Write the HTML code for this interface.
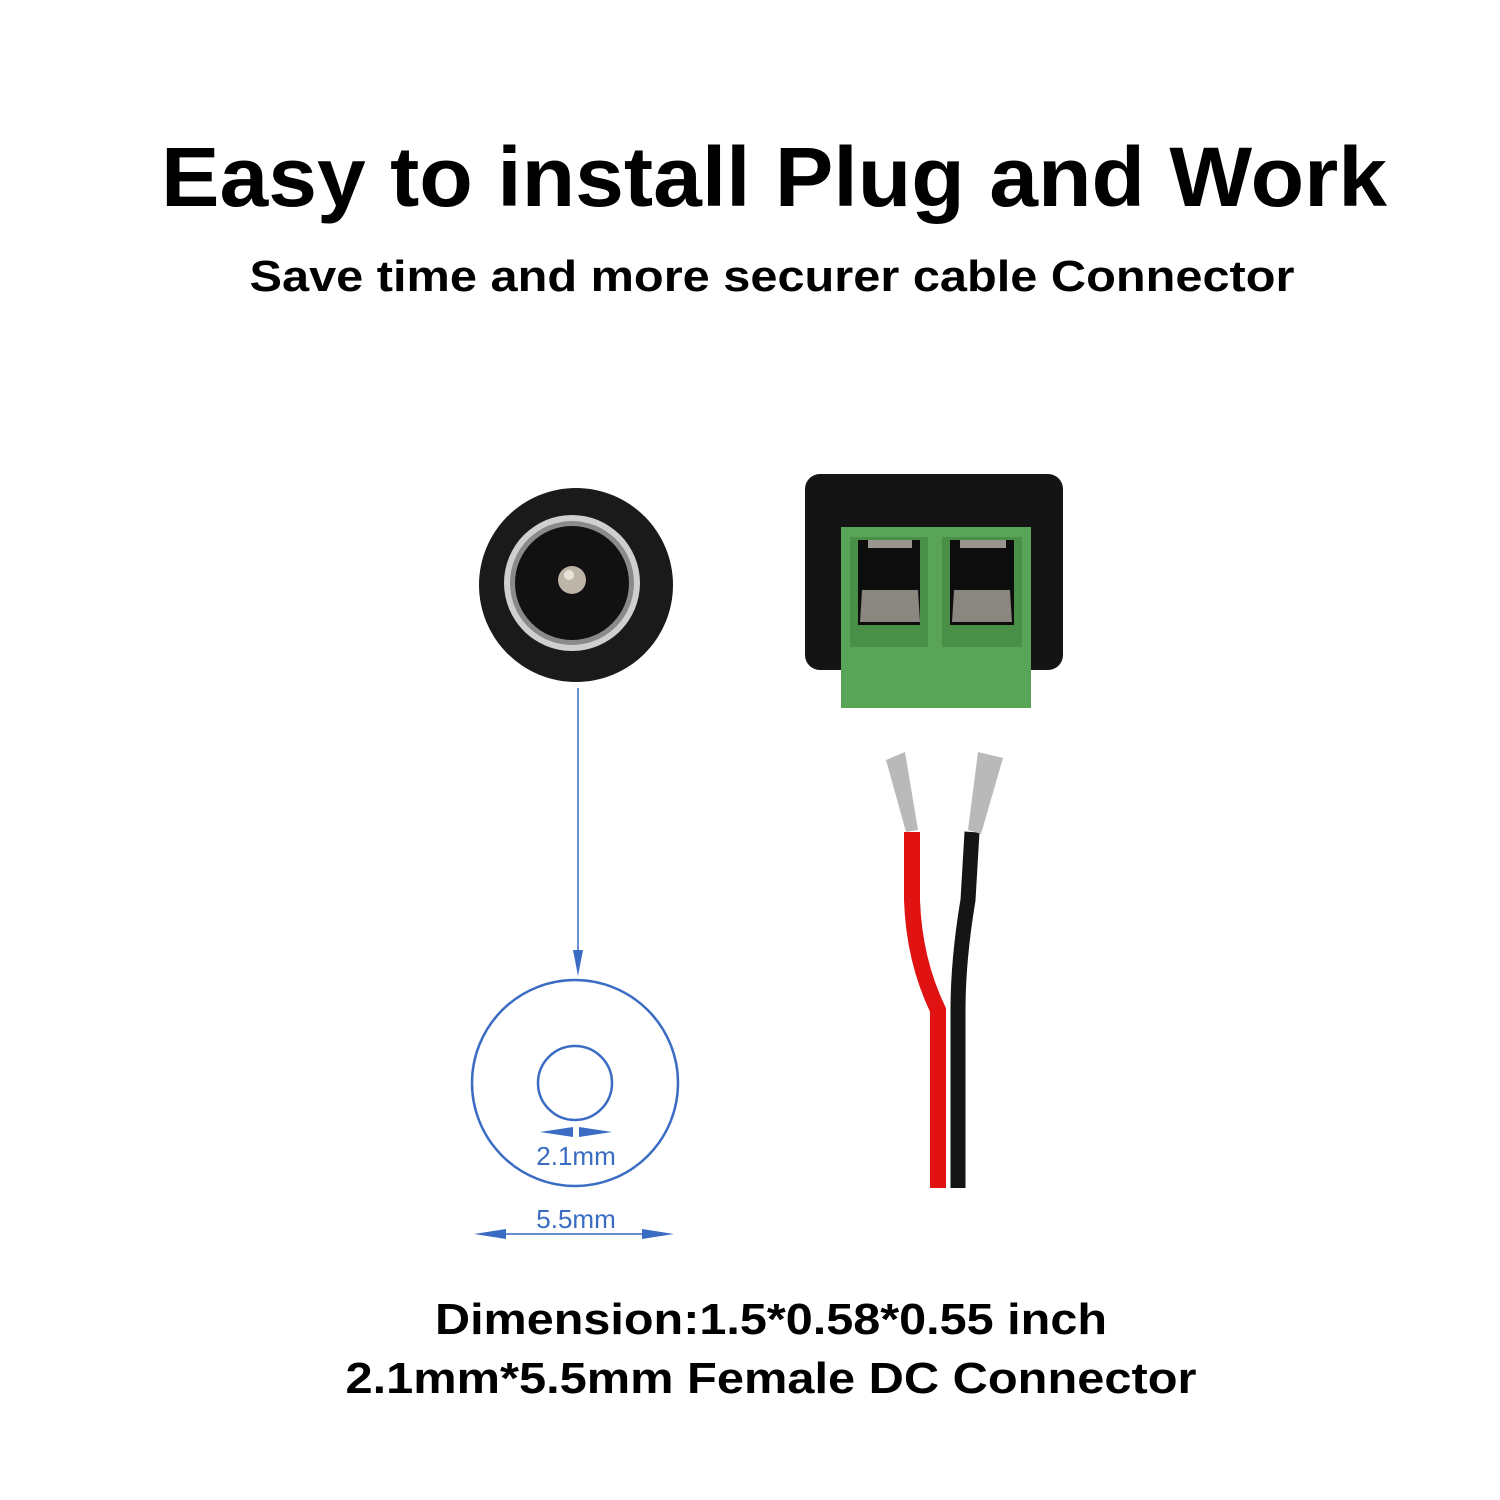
<!DOCTYPE html>
<html><head><style>html,body{margin:0;padding:0;background:#fff;}svg{display:block}</style></head>
<body>
<svg width="1500" height="1500" viewBox="0 0 1500 1500" xmlns="http://www.w3.org/2000/svg" font-family="Liberation Sans, sans-serif">
<rect width="1500" height="1500" fill="#fff"/>
<text x="774" y="206" text-anchor="middle" font-size="84" font-weight="bold" textLength="1226" lengthAdjust="spacingAndGlyphs">Easy to install Plug and Work</text>
<text x="772" y="291" text-anchor="middle" font-size="44" font-weight="bold" textLength="1045" lengthAdjust="spacingAndGlyphs">Save time and more securer cable Connector</text>

<!-- DC jack -->
<circle cx="576" cy="585" r="97" fill="#1a1a1a"/>
<circle cx="572" cy="583" r="68" fill="#cfcfcf"/>
<circle cx="572" cy="583" r="62" fill="#8a8a8a"/>
<circle cx="572" cy="583" r="57" fill="#111"/>
<circle cx="572" cy="580" r="14" fill="#bdb5a8"/>
<circle cx="569" cy="575" r="5" fill="#e8e2d8"/>

<!-- blue connector -->
<line x1="578" y1="688" x2="578" y2="960" stroke="#3a6cc4" stroke-width="1.5"/>
<polygon points="573,950 583,950 578,976" fill="#3a6cc4"/>
<circle cx="575" cy="1083" r="103" fill="none" stroke="#3a6cc4" stroke-width="2.5"/>
<circle cx="575" cy="1083" r="37" fill="none" stroke="#3a6cc4" stroke-width="2.5"/>
<polygon points="540,1132 573,1127 573,1137" fill="#3a6cc4"/>
<polygon points="612,1132 579,1127 579,1137" fill="#3a6cc4"/>
<text x="576" y="1165" text-anchor="middle" font-size="26" fill="#3a6cc4">2.1mm</text>
<text x="576" y="1228" text-anchor="middle" font-size="26" fill="#3a6cc4">5.5mm</text>
<line x1="500" y1="1234" x2="650" y2="1234" stroke="#3a6cc4" stroke-width="1.5"/>
<polygon points="474,1234 506,1229 506,1239" fill="#3a6cc4"/>
<polygon points="674,1234 642,1229 642,1239" fill="#3a6cc4"/>

<!-- terminal block -->
<rect x="805" y="474" width="258" height="196" rx="15" fill="#141414"/>
<rect x="841" y="527" width="190" height="181" fill="#5aa457"/>
<rect x="850" y="537" width="78" height="110" fill="#4a8f48"/>
<rect x="942" y="537" width="80" height="110" fill="#4a8f48"/>
<rect x="858" y="540" width="62" height="85" fill="#0d0d0d"/>
<rect x="950" y="540" width="64" height="85" fill="#0d0d0d"/>
<polygon points="862,590 918,590 920,622 860,622" fill="#8a8680"/>
<polygon points="954,590 1010,590 1012,622 952,622" fill="#8a8680"/>
<rect x="868" y="540" width="44" height="8" fill="#9a968f"/>
<rect x="960" y="540" width="46" height="8" fill="#9a968f"/>
<rect x="930" y="535" width="10" height="115" fill="#5aa457"/>

<!-- wires -->
<path d="M912 832 L912 900 Q914 960 938 1010 L938 1188" stroke="#e01212" stroke-width="16" fill="none"/>
<path d="M972 832 L968 900 Q958 960 958 1010 L958 1188" stroke="#151515" stroke-width="15" fill="none"/>
<polygon points="886,760 905,752 918,830 906,832" fill="#b9b9b9"/>
<polygon points="978,752 1003,758 981,834 968,830" fill="#b9b9b9"/>

<text x="771" y="1334" text-anchor="middle" font-size="44" font-weight="bold" textLength="672" lengthAdjust="spacingAndGlyphs">Dimension:1.5*0.58*0.55 inch</text>
<text x="771" y="1393" text-anchor="middle" font-size="44" font-weight="bold" textLength="851" lengthAdjust="spacingAndGlyphs">2.1mm*5.5mm Female DC Connector</text>
</svg>
</body></html>
